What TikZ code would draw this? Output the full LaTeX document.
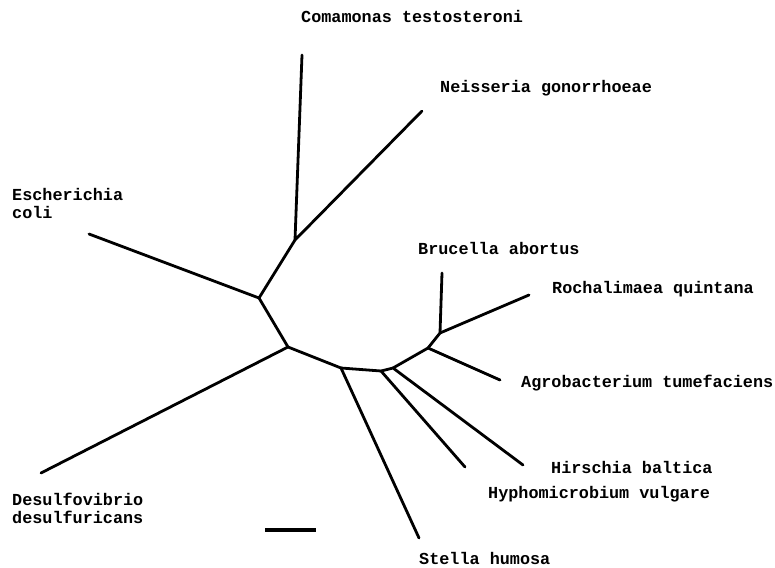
\documentclass[tikz,border=0pt]{standalone}
\usepackage{fontspec}
\setmonofont{Liberation Mono}
\usetikzlibrary{positioning}

\begin{document}
\begin{tikzpicture}[x=1pt,y=-1pt,
	branch/.style={line width=2.8pt, line cap=round, line join=round},
	taxon/.style={font=\ttfamily\bfseries\fontsize{16.8}{18}\selectfont, inner sep=0pt, anchor=base west, align=left}]

	\useasboundingbox (0,0) rectangle (775,567);

	% inner nodes of the tree
	\coordinate (a) at (295,240);
	\coordinate (b) at (259,298);
	\coordinate (c) at (288,347);
	\coordinate (d) at (341,368);
	\coordinate (e) at (381,371);
	\coordinate (f) at (393,368);
	\coordinate (g) at (428,348);
	\coordinate (h) at (440,333);

	% leaves
	\coordinate (coma) at (302,55);
	\coordinate (neis) at (422,111);
	\coordinate (esch) at (89,234);
	\coordinate (desu) at (41,473);
	\coordinate (stel) at (419,538);
	\coordinate (hyph) at (465,467);
	\coordinate (hirs) at (523,465);
	\coordinate (agro) at (500,380);
	\coordinate (bruc) at (442,273);
	\coordinate (roch) at (529,295);

	% branches
	\draw[branch] (coma) -- (a) -- (neis);
	\draw[branch] (a) -- (b) -- (esch);
	\draw[branch] (b) -- (c) -- (desu);
	\draw[branch] (c) -- (d) -- (stel);
	\draw[branch] (d) -- (e) -- (hyph);
	\draw[branch] (e) -- (f) -- (hirs);
	\draw[branch] (f) -- (g) -- (agro);
	\draw[branch] (g) -- (h) -- (bruc);
	\draw[branch] (h) -- (roch);

	% names
	\node[taxon] (comaname) at (301,23) {Comamonas testosteroni};
	\node[taxon] (neisname) at (440,93) {Neisseria gonorrhoeae};
	\node[taxon] (eschname) at (12,218) {Escherichia\\coli};
	\node[taxon] (brucname) at (418,254) {Brucella abortus};
	\node[taxon] (rochname) at (552,293) {Rochalimaea quintana};
	\node[taxon] (agroname) at (521,387) {Agrobacterium tumefaciens};
	\node[taxon] (hirsname) at (551,473) {Hirschia baltica};
	\node[taxon] (hyphname) at (488,498) {Hyphomicrobium vulgare};
	\node[taxon] (desuname) at (12,523) {Desulfovibrio\\desulfuricans};
	\node[taxon] (stelname) at (419,564) {Stella humosa};

	% scale bar
	\coordinate (bar1) at (265,530);
	\coordinate (bar2) at (316,530);
	\draw[line width=4pt] (bar1) -- (bar2);
\end{tikzpicture}
\end{document}
